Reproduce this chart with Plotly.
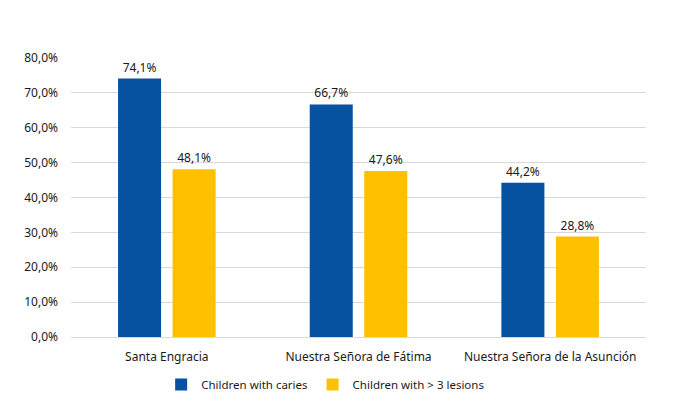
import plotly.graph_objects as go

schools = ['Santa Engracia', 'Nuestra Señora de Fátima', 'Nuestra Señora de la Asunción']
caries = [0.741, 0.667, 0.442]
lesions = [0.481, 0.476, 0.288]

fig = go.Figure()
fig.add_trace(go.Bar(x=schools, y=caries, name='Children with caries',
                     marker=dict(color='#0651A0', line_width=0), texttemplate='%{y:.1%}',
                     textposition='outside', cliponaxis=False))
fig.add_trace(go.Bar(x=schools, y=lesions, name='Children with > 3 lesions',
                     marker=dict(color='#FFC000', line_width=0), texttemplate='%{y:.1%}',
                     textposition='outside', cliponaxis=False))

fig.update_layout(
    width=673, height=408,
    margin=dict(l=63, r=35, t=50, b=79),
    separators=',.',
    barmode='group', bargap=0.431, bargroupgap=0.211,
    plot_bgcolor='white', paper_bgcolor='white',
    font=dict(family='Noto Sans', size=12, color='#1a1a1a'),
    showlegend=True,
    legend=dict(orientation='h', x=0.442, xanchor='center', y=-0.118, yanchor='top',
                font=dict(size=11.5), itemwidth=30, traceorder='normal'),
    uniformtext=dict(minsize=12, mode='show'),
)
fig.update_yaxes(range=[0, 0.8], dtick=0.1, tickformat='.1%', gridcolor='#D9D9D9',
                 zeroline=False, ticks='', showline=False, ticklabelstandoff=12)
fig.update_xaxes(showline=True, linecolor='#D9D9D9', ticks='', ticklabelstandoff=9)

fig.write_html("out.html")
